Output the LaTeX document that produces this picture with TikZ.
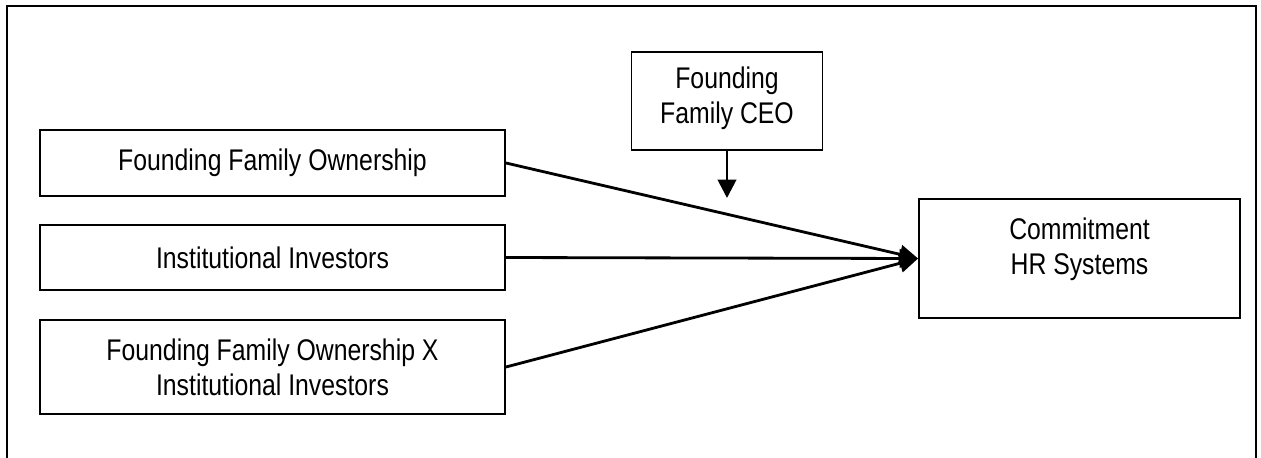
\documentclass[tikz,border=0pt]{standalone}
\usepackage{fontspec}
\setmainfont{Liberation Sans}[FakeStretch=0.83]
\usepackage{tikz}
\usetikzlibrary{arrows.meta, positioning}
\tikzset{
>={Triangle[length=10.5pt,width=10.5pt]}, % solid arrow heads
every node/.style={font=\fontsize{17}{19.9}\selectfont, align=center}, % sets the text of all boxes
varbox/.style={draw, line width=1.1pt, inner sep=0pt}, % the boxes of the model
link/.style={->, line width=1.6pt}, % the paths of the model
}

\begin{document}
\begin{tikzpicture}[x=0.02cm, y=-0.02cm]
\useasboundingbox (0,0) rectangle (1261,457);
\draw[line width=0.8pt] (7,460) -- (7,6) -- (1256,6) -- (1256,460);
\node[varbox, minimum width=465*0.02cm, minimum height=66*0.02cm] at (272.5,163) (own) {Founding Family Ownership};
\node[varbox, minimum width=465*0.02cm, minimum height=65*0.02cm] at (272.5,257.5) (inst) {Institutional Investors};
\node[varbox, minimum width=465*0.02cm, minimum height=94*0.02cm] at (272.5,367) (inter) {Founding Family Ownership X\\Institutional Investors};
\node[varbox, minimum width=191*0.02cm, minimum height=98*0.02cm] at (727,101) (ceo) {Founding\\Family CEO\\[-13pt]};
\node[varbox, minimum width=321*0.02cm, minimum height=119*0.02cm] at (1079.5,258.5) (hr) {Commitment\\HR Systems\\[-5.7pt]};
\coordinate (mod) at (727,198);
\draw[link] (own.east) -- (hr.west);
\draw[link] (inst.east) -- (hr.west);
\draw[link] (inter.east) -- (hr.west);
\draw[link] (ceo.south) -- (mod);
\end{tikzpicture}
\end{document}
